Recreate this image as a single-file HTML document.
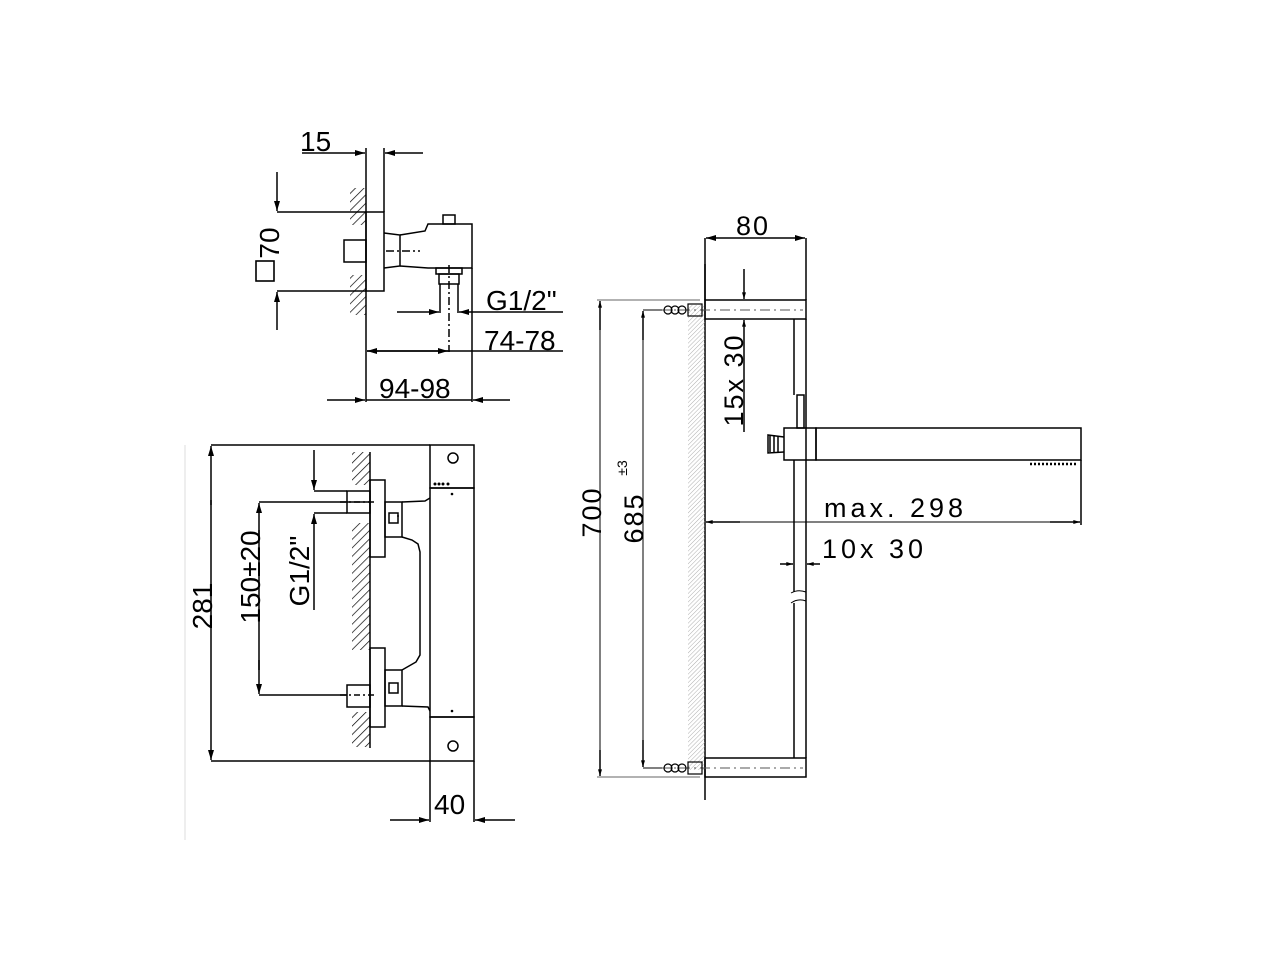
<!DOCTYPE html>
<html><head><meta charset="utf-8"><style>
html,body{margin:0;padding:0;background:#fff;}
svg{display:block;}
text{font-family:"Liberation Sans",sans-serif;fill:#000;}
</style></head><body>
<svg width="1280" height="960" viewBox="0 0 1280 960" xmlns="http://www.w3.org/2000/svg">
<defs>
<marker id="a" viewBox="0 0 10 6" refX="10" refY="3" markerWidth="13" markerHeight="6" markerUnits="userSpaceOnUse" orient="auto"><path d="M0,0 L10,3 L0,6 z" fill="#000"/></marker>
<marker id="s" viewBox="0 0 10 6" refX="10" refY="3" markerWidth="9" markerHeight="4" markerUnits="userSpaceOnUse" orient="auto"><path d="M0,0 L10,3 L0,6 z" fill="#000"/></marker>
<pattern id="h" width="6" height="6" patternUnits="userSpaceOnUse" patternTransform="rotate(45)"><line x1="0" y1="0" x2="0" y2="6" stroke="#000" stroke-width="1.4"/></pattern>
<pattern id="hl" width="3" height="3" patternUnits="userSpaceOnUse" patternTransform="rotate(45)"><line x1="0" y1="0" x2="0" y2="3" stroke="#999" stroke-width="0.8"/></pattern>
</defs>
<g fill="none" stroke="#000" stroke-width="1.5">
<!-- TOP-LEFT VIEW -->
<line x1="366" y1="148" x2="366" y2="402"/>
<line x1="384" y1="148" x2="384" y2="212"/>
<line x1="302" y1="153" x2="365" y2="153" marker-end="url(#a)"/>
<line x1="423" y1="153" x2="385" y2="153" marker-end="url(#a)"/>
<rect x="350" y="188" width="16" height="37" fill="url(#h)" stroke="none"/>
<rect x="350" y="275" width="16" height="40" fill="url(#h)" stroke="none"/>
<rect x="366" y="212" width="18" height="79"/>
<line x1="277" y1="212" x2="366" y2="212"/>
<line x1="277" y1="291" x2="366" y2="291"/>
<line x1="277" y1="172" x2="277" y2="211" marker-end="url(#a)"/>
<line x1="277" y1="330" x2="277" y2="292" marker-end="url(#a)"/>
<rect x="344" y="240" width="22" height="22"/>
<path d="M384,233 L400,235 L400,266 L384,268"/>
<path d="M400,235 L425,231 L428,224 L472,224 L472,268 L428,268 L400,266"/>
<rect x="443" y="215" width="12" height="9"/>
<rect x="436" y="268" width="26" height="6"/>
<rect x="439" y="274" width="20" height="10"/>
<line x1="440" y1="284" x2="440" y2="313"/>
<line x1="458" y1="284" x2="458" y2="313"/>
<line x1="449" y1="265" x2="449" y2="352" stroke-dasharray="8,3,2,3"/>
<line x1="386" y1="251" x2="420" y2="251" stroke-dasharray="8,3,2,3"/>
<line x1="472" y1="268" x2="472" y2="402"/>
<line x1="397" y1="312" x2="439" y2="312" marker-end="url(#a)"/>
<line x1="563" y1="312" x2="459" y2="312" marker-end="url(#a)"/>
<line x1="449" y1="351" x2="367" y2="351" marker-end="url(#a)"/>
<line x1="367" y1="351" x2="448" y2="351" marker-end="url(#a)"/>
<line x1="449" y1="351" x2="563" y2="351"/>
<line x1="327" y1="400" x2="365" y2="400" marker-end="url(#a)"/>
<line x1="510" y1="400" x2="473" y2="400" marker-end="url(#a)"/>
<line x1="366" y1="400" x2="472" y2="400"/>

<!-- BOTTOM-LEFT VIEW -->
<line x1="211" y1="445" x2="430" y2="445"/>
<line x1="211" y1="761" x2="430" y2="761"/>
<line x1="211" y1="505" x2="211" y2="446" marker-end="url(#a)"/>
<line x1="211" y1="700" x2="211" y2="760" marker-end="url(#a)"/>
<line x1="211" y1="500" x2="211" y2="700"/>
<rect x="430" y="445" width="44" height="43"/>
<rect x="430" y="488" width="44" height="229"/>
<rect x="430" y="717" width="44" height="44"/>
<circle cx="453" cy="458" r="5"/>
<circle cx="453" cy="746" r="5"/>
<line x1="430" y1="761" x2="430" y2="822"/>
<line x1="474" y1="761" x2="474" y2="822"/>
<line x1="390" y1="820" x2="429" y2="820" marker-end="url(#a)"/>
<line x1="515" y1="820" x2="475" y2="820" marker-end="url(#a)"/>
<line x1="370" y1="452" x2="370" y2="748"/>
<rect x="352" y="452" width="18" height="33" fill="url(#h)" stroke="none"/>
<rect x="352" y="523" width="18" height="127" fill="url(#h)" stroke="none"/>
<rect x="352" y="712" width="18" height="35" fill="url(#h)" stroke="none"/>
<rect x="370" y="480" width="15" height="77"/>
<rect x="370" y="648" width="15" height="79"/>
<rect x="347" y="491" width="23" height="22"/>
<rect x="347" y="685" width="23" height="22"/>
<line x1="340" y1="502" x2="375" y2="502" stroke-dasharray="6,3,2,3"/>
<line x1="340" y1="695" x2="375" y2="695" stroke-dasharray="6,3,2,3"/>
<rect x="385" y="502" width="17" height="35"/>
<rect x="385" y="670" width="17" height="36"/>
<rect x="389" y="513" width="9" height="10"/>
<rect x="389" y="683" width="9" height="10"/>
<path d="M402,502 L425,501 L430,498"/>
<path d="M402,537 L412,540 L418,544 L420,552 L420,655 L416,662 L402,670"/>
<path d="M402,706 L428,707 L430,711"/>
<line x1="259" y1="502" x2="370" y2="502"/>
<line x1="259" y1="695" x2="347" y2="695"/>
<line x1="259" y1="540" x2="259" y2="503" marker-end="url(#a)"/>
<line x1="259" y1="660" x2="259" y2="694" marker-end="url(#a)"/>
<line x1="259" y1="530" x2="259" y2="670"/>
<line x1="314" y1="491" x2="347" y2="491"/>
<line x1="314" y1="513" x2="347" y2="513"/>
<line x1="314" y1="450" x2="314" y2="490" marker-end="url(#a)"/>
<line x1="314" y1="610" x2="314" y2="514" marker-end="url(#a)"/>

<!-- RIGHT VIEW -->
<line x1="705" y1="238" x2="705" y2="300"/>
<line x1="806" y1="238" x2="806" y2="300"/>
<line x1="740" y1="238" x2="706" y2="238" marker-end="url(#a)"/>
<line x1="770" y1="238" x2="805" y2="238" marker-end="url(#a)"/>
<line x1="740" y1="238" x2="770" y2="238"/>
<line x1="705" y1="264" x2="705" y2="800"/>
<rect x="688" y="305" width="17" height="465" fill="url(#hl)" stroke="none"/>
<rect x="705" y="300" width="101" height="19"/>
<rect x="705" y="758" width="101" height="19"/>
<line x1="794" y1="319" x2="794" y2="395"/>
<line x1="806" y1="319" x2="806" y2="758"/>
<line x1="794" y1="460" x2="794" y2="592"/>
<line x1="794" y1="603" x2="794" y2="758"/>
<path d="M791,593 Q798,589 806,592" stroke-width="1"/>
<path d="M791,603 Q798,598 806,601" stroke-width="1"/>
<rect x="797" y="395" width="7" height="33"/>
<rect x="784" y="428" width="32" height="32"/>
<rect x="816" y="428" width="265" height="32"/>
<path d="M1030,464 L1078,464" stroke-dasharray="2,2" stroke-width="2.5"/>
<path d="M784,437 L768,435 L768,453 L784,452"/>
<path d="M770,436 L770,452 M774,435 L774,453 M778,436 L778,452" stroke-width="1.5"/>
<line x1="660" y1="310" x2="803" y2="310" stroke="#555" stroke-dasharray="10,4,2,4" stroke-width="1"/>
<line x1="660" y1="768" x2="803" y2="768" stroke="#555" stroke-dasharray="10,4,2,4" stroke-width="1"/>
<g stroke-width="1.2"><circle cx="668" cy="310" r="4"/><circle cx="675" cy="310" r="4"/><circle cx="682" cy="310" r="4"/><rect x="688" y="304" width="14" height="12"/>
<circle cx="668" cy="768" r="4"/><circle cx="675" cy="768" r="4"/><circle cx="682" cy="768" r="4"/><rect x="688" y="762" width="14" height="12"/></g>
<line x1="744" y1="269" x2="744" y2="299" marker-end="url(#s)"/>
<line x1="744" y1="432" x2="744" y2="320" marker-end="url(#s)"/>
<line x1="597" y1="300" x2="700" y2="300" stroke="#666" stroke-width="1"/>
<line x1="597" y1="777" x2="700" y2="777" stroke="#666" stroke-width="1"/>
<line x1="600" y1="330" x2="600" y2="301" marker-end="url(#s)"/>
<line x1="600" y1="750" x2="600" y2="776" marker-end="url(#s)"/>
<line x1="600" y1="320" x2="600" y2="760" stroke-width="1"/>
<line x1="643" y1="340" x2="643" y2="311" marker-end="url(#s)"/>
<line x1="643" y1="740" x2="643" y2="767" marker-end="url(#s)"/>
<line x1="643" y1="330" x2="643" y2="750" stroke-width="1"/>
<line x1="643" y1="310" x2="662" y2="310" stroke-width="1"/>
<line x1="643" y1="768" x2="662" y2="768" stroke-width="1"/>
<line x1="1081" y1="460" x2="1081" y2="525"/>
<line x1="740" y1="522" x2="706" y2="522" marker-end="url(#s)"/>
<line x1="1050" y1="522" x2="1080" y2="522" marker-end="url(#s)"/>
<line x1="740" y1="522" x2="1050" y2="522" stroke-width="1"/>
<line x1="780" y1="564" x2="793" y2="564" marker-end="url(#s)"/>
<line x1="820" y1="564" x2="807" y2="564" marker-end="url(#s)"/>
</g>
<g font-size="28">
<text x="300" y="151">15</text>
<text transform="translate(279,243) rotate(-90)" text-anchor="middle">70</text>
<rect x="256" y="261" width="18" height="20" fill="none" stroke="#000" stroke-width="1.6"/>
<text x="486" y="310">G1/2"</text>
<text x="484" y="350">74-78</text>
<text x="379" y="398">94-98</text>
<text transform="translate(212,606) rotate(-90)" text-anchor="middle">281</text>
<text transform="translate(260,577) rotate(-90)" text-anchor="middle">150±20</text>
<text transform="translate(309,571) rotate(-90)" text-anchor="middle">G1/2"</text>
<text x="434" y="814">40</text>
</g>
<g font-size="27">
<text x="736" y="235" letter-spacing="2">80</text>
<text transform="translate(743,380) rotate(-90)" text-anchor="middle" letter-spacing="2">15x 30</text>
<text transform="translate(601,512) rotate(-90)" text-anchor="middle" letter-spacing="2">700</text>
<text transform="translate(643,518) rotate(-90)" text-anchor="middle" letter-spacing="2">685</text>
<text x="824" y="517" letter-spacing="4">max. 298</text>
<text x="822" y="558" letter-spacing="4">10x 30</text>
</g>
<text transform="translate(627,468) rotate(-90)" text-anchor="middle" font-size="14">±3</text>
<g fill="#000"><circle cx="435" cy="484" r="1.5"/><circle cx="439" cy="484" r="1.5"/><circle cx="443" cy="484" r="1.5"/><circle cx="448" cy="484" r="1.5"/><circle cx="452" cy="494" r="1.3"/><circle cx="452" cy="711" r="1.3"/><circle cx="398" cy="516" r="1"/></g>
<line x1="185" y1="445" x2="185" y2="840" stroke="#ddd" stroke-width="1"/>
</svg>
</body></html>
